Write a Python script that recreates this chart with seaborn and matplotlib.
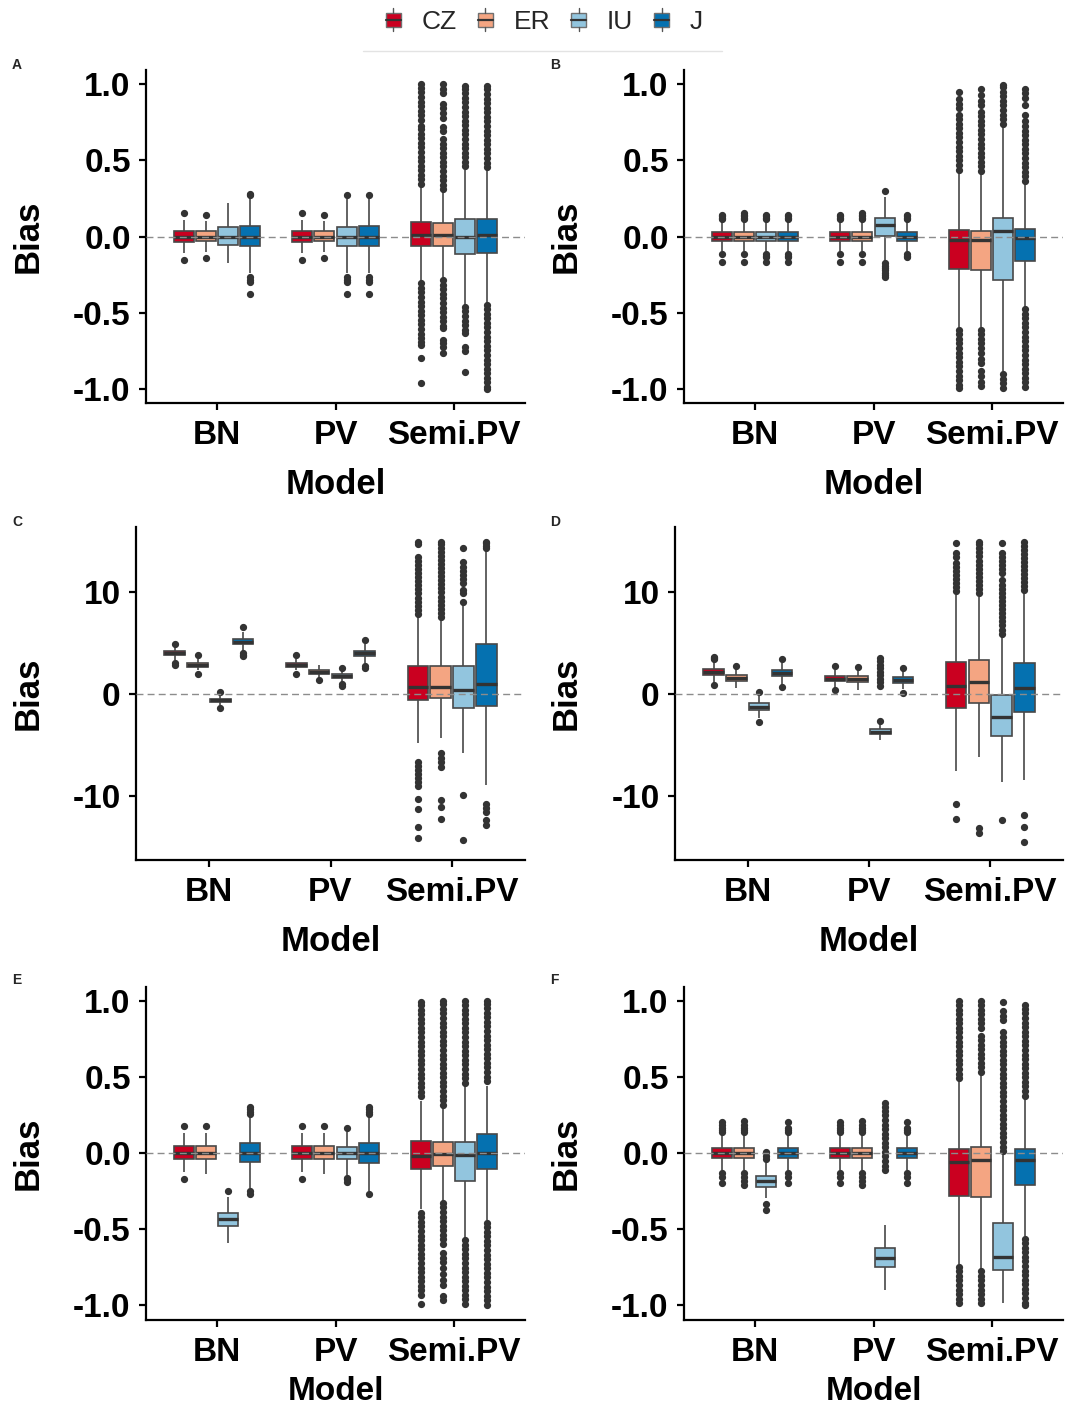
import numpy as np
import pandas as pd
import matplotlib
matplotlib.use("Agg")
import matplotlib.pyplot as plt
import seaborn as sns
from matplotlib.patches import Rectangle, Patch
from matplotlib.lines import Line2D
from matplotlib.legend_handler import HandlerBase

MODELS = ["BN", "PV", "Semi.PV"]
GROUPS = ["CZ", "ER", "IU", "J"]
COLORS = ["#CA0020", "#F4A582", "#92C5DE", "#0571B0"]

# five-number summaries: whisker low, Q1, median, Q3, whisker high
# order: BN(CZ,ER,IU,J), PV(CZ,ER,IU,J), Semi.PV(CZ,ER,IU,J)
A_box = [[-0.11, -0.035, 0.0, 0.04, 0.11], [-0.10, -0.028, 0.0, 0.035, 0.105],
         [-0.175, -0.056, 0.0, 0.062, 0.22], [-0.24, -0.063, 0.0, 0.068, 0.25],
         [-0.11, -0.035, 0.0, 0.04, 0.11], [-0.10, -0.028, 0.0, 0.035, 0.105],
         [-0.24, -0.06, 0.0, 0.065, 0.245], [-0.24, -0.063, 0.0, 0.068, 0.25],
         [-0.29, -0.061, 0.011, 0.098, 0.33], [-0.262, -0.059, 0.011, 0.088, 0.30],
         [-0.448, -0.115, 0.0, 0.114, 0.437], [-0.435, -0.108, 0.011, 0.114, 0.44]]
A_out = [[0.155, -0.155], [0.14, -0.137], [],
         [0.27, 0.28, -0.265, -0.285, -0.30, -0.375],
         [0.155, -0.155], [0.14, -0.137],
         [0.27, -0.265, -0.285, -0.30, -0.375],
         [0.272, -0.265, -0.285, -0.30, -0.375],
         [0.345, 0.375, 0.405, 0.435, 0.465, 0.495, 0.525, 0.555, 0.585, 0.615, 0.645, 0.675, 0.705, 0.725,
          0.765, 0.795, 0.825, 0.855, 0.885, 0.915, 0.945, 0.975, 1.0,
          -0.305, -0.335, -0.365, -0.395, -0.425, -0.455, -0.485, -0.515, -0.545, -0.575, -0.605, -0.635,
          -0.665, -0.69, -0.71, -0.795, -0.96],
         [0.31, 0.34, 0.37, 0.40, 0.43, 0.46, 0.49, 0.52, 0.55, 0.58, 0.61, 0.64, 0.69, 0.72, 0.78, 0.81,
          0.84, 0.87, 0.94, 0.97, 1.0,
          -0.285, -0.315, -0.345, -0.375, -0.405, -0.435, -0.465, -0.495, -0.525, -0.555, -0.585, -0.60,
          -0.68, -0.70, -0.72, -0.76],
         [0.46, 0.49, 0.52, 0.55, 0.58, 0.61, 0.64, 0.67, 0.70, 0.73, 0.76, 0.79, 0.82, 0.85, 0.88, 0.91,
          0.94, 0.97, 0.99,
          -0.462, -0.49, -0.52, -0.55, -0.58, -0.61, -0.633, -0.72, -0.75, -0.885],
         [0.455, 0.485, 0.515, 0.545, 0.575, 0.605, 0.635, 0.665, 0.695, 0.725, 0.755, 0.785, 0.815, 0.845,
          0.875, 0.905, 0.935, 0.965, 0.99,
          -0.445, -0.475, -0.505, -0.535, -0.565, -0.595, -0.625, -0.655, -0.685, -0.715, -0.745, -0.775,
          -0.805, -0.835, -0.865, -0.895, -0.925, -0.955, -0.985, -1.0]]

B_box = [[-0.095, -0.028, 0.0, 0.028, 0.095]] * 6 + \
        [[-0.16, 0.005, 0.075, 0.12, 0.26], [-0.095, -0.028, 0.0, 0.028, 0.095],
         [-0.59, -0.215, -0.023, 0.043, 0.42], [-0.59, -0.22, -0.023, 0.036, 0.41],
         [-0.88, -0.285, 0.038, 0.123, 0.72], [-0.46, -0.16, -0.012, 0.047, 0.35]]
B_out = [[0.115, 0.125, 0.135, 0.145, -0.115, -0.165],
         [0.115, 0.125, 0.135, 0.145, 0.155, -0.115, -0.165],
         [0.115, 0.125, 0.135, 0.145, -0.115, -0.125, -0.135, -0.165],
         [0.115, 0.125, 0.135, 0.145, -0.115, -0.125, -0.135, -0.165],
         [0.115, 0.125, 0.135, 0.145, -0.115, -0.165],
         [0.115, 0.125, 0.135, 0.145, 0.155, -0.115, -0.165],
         [0.298, -0.175, -0.19, -0.205, -0.22, -0.235, -0.25, -0.265],
         [0.115, 0.125, 0.135, 0.145, -0.115, -0.125, -0.135],
         [0.44, 0.47, 0.50, 0.53, 0.56, 0.59, 0.62, 0.65, 0.68, 0.71, 0.74, 0.77, 0.80, 0.84, 0.87, 0.90, 0.95,
          -0.61, -0.64, -0.67, -0.70, -0.73, -0.76, -0.79, -0.82, -0.85, -0.88, -0.91, -0.94, -0.97, -0.99],
         [0.43, 0.46, 0.49, 0.52, 0.55, 0.58, 0.61, 0.64, 0.67, 0.70, 0.73, 0.76, 0.79, 0.82, 0.86, 0.89,
          0.93, 0.97,
          -0.61, -0.64, -0.67, -0.70, -0.73, -0.76, -0.80, -0.83, -0.88, -0.91, -0.95, -0.98],
         [0.74, 0.77, 0.80, 0.83, 0.86, 0.89, 0.92, 0.95, 0.98, 0.995, -0.90, -0.93, -0.96, -0.99],
         [0.365, 0.395, 0.425, 0.455, 0.485, 0.515, 0.545, 0.575, 0.605, 0.635, 0.665, 0.695, 0.725, 0.755,
          0.80, 0.86, 0.91, 0.94, 0.97,
          -0.475, -0.505, -0.535, -0.565, -0.595, -0.625, -0.655, -0.685, -0.715, -0.745, -0.775, -0.805,
          -0.835, -0.865, -0.895, -0.925, -0.955, -0.985]]

C_box = [[3.35, 3.8, 4.0, 4.2, 4.6], [2.4, 2.7, 2.87, 3.1, 3.45],
         [-1.05, -0.75, -0.6, -0.45, -0.1], [4.2, 4.9, 5.17, 5.45, 6.1],
         [2.35, 2.7, 2.9, 3.1, 3.45], [1.6, 2.0, 2.17, 2.35, 2.85],
         [1.2, 1.6, 1.77, 1.95, 2.35], [3.1, 3.75, 4.0, 4.25, 4.9],
         [-4.86, -0.59, 0.72, 2.79, 7.6], [-4.37, -0.36, 0.72, 2.79, 7.4],
         [-5.85, -1.35, 0.39, 2.76, 8.77], [-8.97, -1.18, 0.95, 4.96, 14.1]]
C_out = [[4.95, 3.05, 2.9], [3.8, 2.0], [0.17, -1.35], [6.63, 4.0, 3.85, 3.7],
         [3.8, 2.0], [1.35], [2.6, 1.0, 0.8], [5.32, 2.8, 2.6],
         [7.9, 8.3, 8.7, 9.1, 9.5, 9.9, 10.3, 10.7, 11.1, 11.5, 11.9, 12.3, 12.7, 13.1, 13.5, 14.75, 15.0,
          -6.7, -7.1, -7.5, -7.9, -8.3, -8.7, -9.1, -10.3, -11.3, -13.1, -14.2],
         [7.6, 8.0, 8.4, 8.8, 9.2, 9.6, 10.0, 10.4, 10.8, 11.2, 11.6, 12.0, 12.4, 12.8, 13.2, 13.6, 14.0,
          14.4, 14.8, 15.0, -5.85, -6.3, -6.7, -7.15, -10.4, -11.1, -12.35],
         [9.1, 9.9, 10.2, 10.9, 11.3, 11.7, 12.1, 12.5, 13.0, 14.35, -9.95, -14.4],
         [14.35, 14.6, 14.85, 15.0, -10.8, -11.2, -11.6, -12.4, -12.9]]

D_box = [[1.1, 1.85, 2.13, 2.45, 3.2], [0.56, 1.25, 1.55, 1.85, 2.5],
         [-2.4, -1.6, -1.25, -0.9, -0.1], [0.9, 1.75, 2.05, 2.4, 3.1],
         [0.6, 1.25, 1.5, 1.8, 2.4], [0.4, 1.15, 1.45, 1.75, 2.4],
         [-4.5, -3.95, -3.7, -3.45, -3.0], [0.5, 1.1, 1.35, 1.65, 2.3],
         [-7.55, -1.41, 0.82, 3.12, 9.8], [-6.17, -0.92, 1.21, 3.35, 9.6],
         [-8.7, -4.1, -2.23, -0.1, 5.65], [-8.47, -1.74, 0.56, 3.02, 9.9]]
D_out = [[3.4, 3.55, 3.67, 0.9], [2.8], [0.23, -2.73], [3.45, 0.66],
         [2.79, 0.36], [2.7],
         [-2.62, 0.8, 1.15, 1.5, 1.85, 2.2, 2.55, 2.9, 3.25, 3.5],
         [2.6, 0.07],
         [10.1, 10.5, 10.9, 11.3, 11.7, 12.1, 12.5, 12.9, 13.5, 13.9, 14.85, -10.87, -12.3],
         [9.95, 10.35, 10.75, 11.15, 11.55, 11.95, 12.35, 12.75, 13.15, 13.55, 13.95, 14.35, 14.75, 15.0,
          -13.2, -13.7],
         [5.95, 6.35, 6.75, 7.15, 7.55, 7.95, 8.35, 8.75, 9.15, 9.55, 9.95, 10.35, 10.75, 11.2, 11.9, 12.3,
          12.7, 13.1, 13.5, 13.86, 14.85, -12.4],
         [10.2, 10.6, 11.0, 11.4, 11.8, 12.2, 12.6, 13.0, 13.4, 13.8, 14.2, 14.6, 15.0, -11.9, -13.1, -14.6]]

E_box = [[-0.13, -0.041, 0.0, 0.044, 0.13], [-0.14, -0.04, 0.0, 0.045, 0.13],
         [-0.595, -0.48, -0.436, -0.394, -0.29], [-0.235, -0.063, 0.0, 0.062, 0.235],
         [-0.13, -0.041, 0.0, 0.044, 0.13], [-0.14, -0.04, 0.0, 0.045, 0.13],
         [-0.145, -0.041, 0.0, 0.04, 0.137], [-0.235, -0.065, 0.0, 0.062, 0.235],
         [-0.37, -0.11, -0.022, 0.079, 0.34], [-0.32, -0.087, -0.011, 0.072, 0.30],
         [-0.56, -0.184, -0.015, 0.072, 0.44], [-0.44, -0.109, -0.004, 0.121, 0.44]]
E_out = [[0.175, -0.175], [0.175], [-0.252], [0.255, 0.27, 0.285, 0.30, -0.255, -0.27],
         [0.175, -0.175], [0.175], [0.165, -0.165, -0.175, -0.19],
         [0.255, 0.27, 0.285, 0.30, -0.255, -0.27],
         [0.37, 0.40, 0.43, 0.46, 0.49, 0.52, 0.55, 0.58, 0.61, 0.64, 0.67, 0.70, 0.73, 0.76, 0.79, 0.82,
          0.85, 0.88, 0.91, 0.94, 0.97, 0.99,
          -0.395, -0.425, -0.455, -0.485, -0.515, -0.545, -0.575, -0.605, -0.635, -0.665, -0.695, -0.725,
          -0.755, -0.785, -0.815, -0.845, -0.875, -0.905, -0.935, -0.995],
         [0.315, 0.345, 0.375, 0.405, 0.435, 0.465, 0.495, 0.525, 0.555, 0.585, 0.615, 0.645, 0.675, 0.705,
          0.735, 0.765, 0.795, 0.825, 0.855, 0.885, 0.915, 0.945, 0.975, 1.0,
          -0.33, -0.36, -0.39, -0.42, -0.45, -0.48, -0.51, -0.54, -0.57, -0.60, -0.66, -0.69, -0.72, -0.76,
          -0.80, -0.84, -0.87, -0.94, -0.97],
         [0.46, 0.49, 0.52, 0.55, 0.58, 0.61, 0.64, 0.67, 0.70, 0.73, 0.76, 0.79, 0.82, 0.85, 0.88, 0.91,
          0.94, 0.97, 1.0,
          -0.575, -0.605, -0.635, -0.665, -0.695, -0.725, -0.755, -0.785, -0.815, -0.845, -0.875, -0.905,
          -0.935, -0.965, -0.995],
         [0.47, 0.50, 0.53, 0.56, 0.59, 0.62, 0.65, 0.68, 0.71, 0.74, 0.77, 0.80, 0.83, 0.86, 0.89, 0.92,
          0.95, 0.98, 1.0,
          -0.46, -0.49, -0.52, -0.55, -0.58, -0.61, -0.64, -0.67, -0.70, -0.73, -0.76, -0.79, -0.82, -0.85,
          -0.88, -0.91, -0.94, -0.97, -1.0]]

F_box = [[-0.115, -0.033, 0.0, 0.033, 0.115], [-0.115, -0.033, 0.0, 0.033, 0.115],
         [-0.30, -0.223, -0.188, -0.153, -0.07], [-0.115, -0.033, 0.0, 0.033, 0.115],
         [-0.115, -0.033, 0.0, 0.033, 0.115], [-0.115, -0.033, 0.0, 0.033, 0.115],
         [-0.902, -0.749, -0.69, -0.628, -0.475], [-0.115, -0.033, 0.0, 0.033, 0.115],
         [-0.73, -0.285, -0.059, 0.022, 0.475], [-0.765, -0.289, -0.048, 0.035, 0.51],
         [-0.99, -0.771, -0.687, -0.464, -0.01], [-0.545, -0.21, -0.048, 0.022, 0.35]]
F_out = [[0.135, 0.15, 0.165, 0.18, 0.2, -0.135, -0.16, -0.2],
         [0.135, 0.15, 0.165, 0.185, 0.21, -0.135, -0.16, -0.185, -0.21],
         [0.005, -0.02, -0.04, -0.335, -0.38],
         [0.135, 0.15, 0.165, 0.2, -0.135, -0.16, -0.2],
         [0.135, 0.15, 0.165, 0.18, 0.2, -0.135, -0.16, -0.2],
         [0.135, 0.15, 0.165, 0.185, 0.21, -0.135, -0.16, -0.185, -0.21],
         [-0.114, -0.085, -0.055, -0.025, 0.005, 0.035, 0.065, 0.095, 0.125, 0.155, 0.185, 0.215, 0.245,
          0.275, 0.30, 0.325],
         [0.135, 0.15, 0.165, 0.2, -0.135, -0.16, -0.2],
         [0.49, 0.52, 0.55, 0.58, 0.61, 0.64, 0.67, 0.70, 0.73, 0.76, 0.79, 0.82, 0.85, 0.88, 0.91, 0.94,
          0.97, 1.0, -0.75, -0.78, -0.81, -0.84, -0.87, -0.90, -0.93, -0.96, -0.99],
         [0.53, 0.56, 0.59, 0.62, 0.65, 0.68, 0.71, 0.74, 0.77, 0.82, 0.85, 0.88, 0.91, 0.94, 0.97, 1.0,
          -0.78, -0.81, -0.84, -0.87, -0.90, -0.93, -0.96, -0.99],
         [0.01, 0.04, 0.07, 0.10, 0.13, 0.16, 0.19, 0.22, 0.25, 0.28, 0.31, 0.34, 0.37, 0.40, 0.43, 0.46,
          0.49, 0.52, 0.55, 0.58, 0.61, 0.64, 0.67, 0.70, 0.73, 0.76, 0.79, 0.87, 0.90, 0.93, 0.99],
         [0.375, 0.405, 0.435, 0.465, 0.495, 0.525, 0.555, 0.585, 0.615, 0.645, 0.675, 0.705, 0.735, 0.765,
          0.795, 0.825, 0.855, 0.885, 0.915, 0.945, 0.97,
          -0.565, -0.595, -0.625, -0.655, -0.685, -0.715, -0.745, -0.775, -0.805, -0.835, -0.865, -0.895,
          -0.925, -0.955, -0.985, -1.0]]

SMALL_TICKS = [-1.0, -0.5, 0.0, 0.5, 1.0]
SMALL_LABELS = ["-1.0", "-0.5", "0.0", "0.5", "1.0"]
BIG_TICKS = [-10, 0, 10]
BIG_LABELS = ["-10", "0", "10"]

REP = 500  # weight of the summary values so quartiles are exact


def build(box, out):
    frames = []
    k = 0
    for m in MODELS:
        for g in GROUPS:
            vals = list(np.repeat(box[k], REP)) + list(out[k])
            frames.append(pd.DataFrame({"Model": m, "Group": g, "Bias": vals}))
            k += 1
    return pd.concat(frames, ignore_index=True)


sns.set_theme(style="ticks")
plt.rcParams["font.family"] = ["Liberation Sans", "DejaVu Sans"]
plt.rcParams["axes.unicode_minus"] = False

W, H = 1065, 1414
fig = plt.figure(figsize=(W / 100, H / 100), dpi=100)


def rect(l, r, t, b):
    return [l / W, 1 - b / H, (r - l) / W, (b - t) / H]


panels = [
    ("A", A_box, A_out, (146, 525, 70, 403), (-1.09, 1.092), SMALL_TICKS, SMALL_LABELS, (12, 65)),
    ("B", B_box, B_out, (684, 1063, 70, 403), (-1.09, 1.092), SMALL_TICKS, SMALL_LABELS, (550, 65)),
    ("C", C_box, C_out, (136, 525, 527, 860), (-16.35, 16.45), BIG_TICKS, BIG_LABELS, (12, 522)),
    ("D", D_box, D_out, (675, 1063, 527, 860), (-16.35, 16.45), BIG_TICKS, BIG_LABELS, (550, 522)),
    ("E", E_box, E_out, (146, 525, 987, 1320), (-1.10, 1.089), SMALL_TICKS, SMALL_LABELS, (12, 980)),
    ("F", F_box, F_out, (684, 1063, 987, 1320), (-1.10, 1.089), SMALL_TICKS, SMALL_LABELS, (550, 980)),
]

for letter, box, out, (l, r, t, b), ylim, ticks, tlabels, (lx, ly) in panels:
    ax = fig.add_axes(rect(l, r, t, b))
    df = build(box, out)
    sns.boxplot(data=df, x="Model", y="Bias", hue="Group", order=MODELS, hue_order=GROUPS,
                palette=COLORS, saturation=1, width=0.75, gap=0.1, linecolor="#484848",
                linewidth=1.2, fliersize=4.2, showcaps=False,
                flierprops=dict(marker="o", markerfacecolor="#333333", markeredgecolor="#333333"),
                medianprops=dict(color="#333333", linewidth=2.4),
                legend=False, ax=ax)
    ax.axhline(0, color="#8c8c8c", lw=1.0, ls=(0, (5, 3)), zorder=6)
    ax.set_xlim(-0.6, 2.6)
    ax.set_ylim(*ylim)
    ax.set_yticks(ticks, tlabels)
    sns.despine(ax=ax)
    for s in ["left", "bottom"]:
        ax.spines[s].set_linewidth(1.6)
        ax.spines[s].set_color("black")
    ax.tick_params(axis="both", length=5, width=1.6, color="black", labelsize=24,
                   labelcolor="black", direction="out", left=True, bottom=True)
    ax.tick_params(axis="y", pad=6)
    ax.tick_params(axis="x", pad=7)
    for lab in ax.get_xticklabels() + ax.get_yticklabels():
        lab.set_fontweight("bold")
    bottom_row = b > 1000
    ax.set_xlabel("Model", fontsize=24 if bottom_row else 25, fontweight="bold", color="black")
    ax.set_ylabel("Bias", fontsize=25, fontweight="bold", color="black")
    wpx, hpx = r - l, b - t
    ax.xaxis.set_label_coords(0.5, (-56 if bottom_row else -65) / hpx)
    xr = 45 if l < 500 else 583
    ax.yaxis.set_label_coords((xr - l) / wpx, 0.5)
    fig.text(lx / W, 1 - ly / H, letter, fontsize=10, fontweight="bold", va="center", ha="left")


class BoxHandler(HandlerBase):
    def create_artists(self, legend, orig_handle, xdescent, ydescent, width, height, fontsize, trans):
        fc = orig_handle.get_facecolor()
        w = width * 0.85
        x0 = (width - w) / 2 - xdescent
        h = height * 0.85
        y0 = -ydescent + (height - h) / 2
        rect_ = Rectangle((x0, y0), w, h, facecolor=fc, edgecolor="#707070", lw=1.0, transform=trans)
        med = Line2D([x0, x0 + w], [y0 + h / 2] * 2, color="#333333", lw=1.6, transform=trans)
        wt = Line2D([x0 + w / 2] * 2, [y0 + h, y0 + h + height * 0.25], color="#555555", lw=1.0,
                    transform=trans)
        wb = Line2D([x0 + w / 2] * 2, [y0, y0 - height * 0.25], color="#555555", lw=1.0,
                    transform=trans)
        return [rect_, med, wt, wb]


handles = [Patch(facecolor=c) for c in COLORS]
fig.legend(handles, GROUPS, handler_map={Patch: BoxHandler()}, loc="center",
           bbox_to_anchor=(544 / W, 1 - 22 / H), ncol=4, frameon=False, fontsize=19,
           handlelength=0.65, handleheight=0.6, handletextpad=0.75, columnspacing=0.75)
fig.add_artist(Line2D([363 / W, 722 / W], [1 - 51 / H] * 2, color="#e3e3e3", lw=1.0))

fig.savefig("out.png", dpi=100)
